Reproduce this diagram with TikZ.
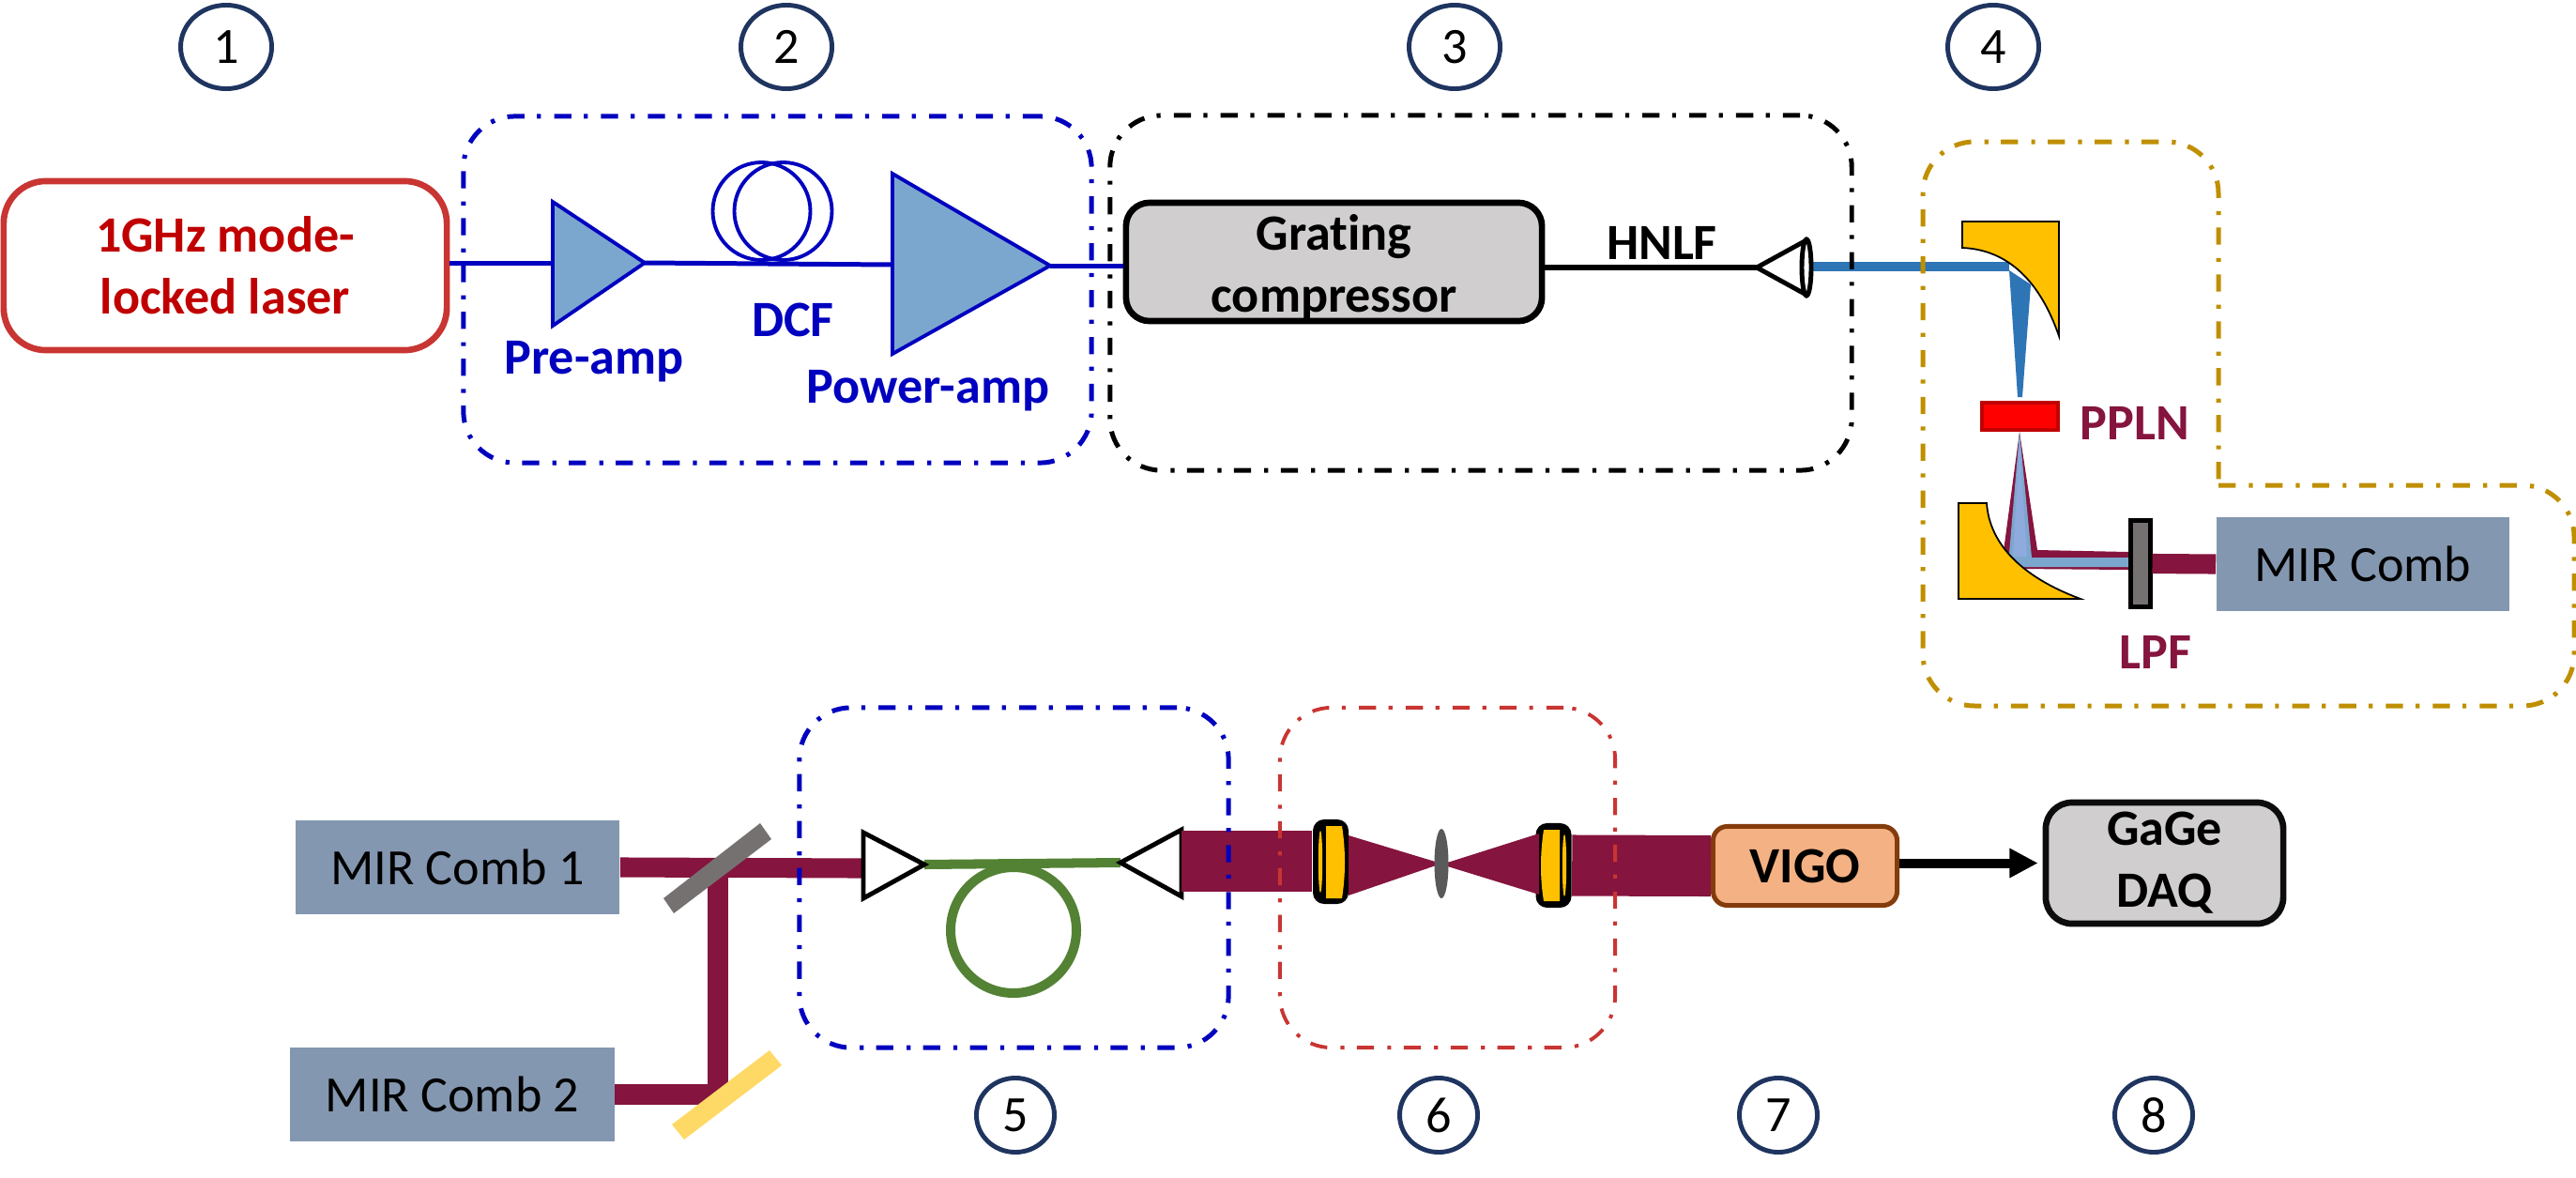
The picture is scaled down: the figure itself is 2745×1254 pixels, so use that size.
\documentclass[tikz,border=0pt]{standalone}
\usepackage{fontspec}
\setmainfont{Carlito}[Ligatures=NoCommon]
\usetikzlibrary{arrows.meta,shapes.geometric}
\definecolor{fiberblue}{HTML}{0000BF}
\definecolor{ampfill}{HTML}{7BA7CF}
\definecolor{darkred}{HTML}{C00000}
\definecolor{laserred}{HTML}{C83532}
\definecolor{gold}{HTML}{BF8F00}
\definecolor{mirror}{HTML}{FFC000}
\definecolor{paleyellow}{HTML}{FFD966}
\definecolor{midblue}{HTML}{2E75B6}
\definecolor{paleblue}{HTML}{8FAADC}
\definecolor{wine}{HTML}{85143E}
\definecolor{combfill}{HTML}{8497B0}
\definecolor{boxgray}{HTML}{D0CECE}
\definecolor{filtergray}{HTML}{767171}
\definecolor{leaf}{HTML}{548235}
\definecolor{numblue}{HTML}{1F3560}
\definecolor{vigofill}{HTML}{F4B183}
\definecolor{vigoline}{HTML}{843C0C}
\tikzset{
    lbl/.style={font=\fontsize{15.4}{18.8}\selectfont,align=center,inner sep=0},
    blbl/.style={lbl,font=\fontsize{15.4}{18.8}\selectfont\bfseries},
    grp/.style={draw,rounded corners=.55cm,line width=1.42pt,inner sep=0,
        dash pattern=on 5.2pt off 4pt on 1.2pt off 3.8pt},
    numc/.style={lbl,draw=numblue,ellipse,line width=1.4pt,fill=white},
    topnum/.style={numc,minimum width=.97cm,minimum height=.89cm},
    lownum/.style={numc,minimum width=.83cm,minimum height=.79cm},
    comb/.style={lbl,fill=combfill,minimum width=3.45cm,minimum height=1cm},
    fiber/.style={fiberblue,line width=1.42pt},
    amp/.style={draw=fiberblue,fill=ampfill,line width=1.1pt},
    beam/.style={wine,line width=6pt},
    widebeam/.style={wine,line width=18.5pt},
    cpl/.style={draw=black,fill=white,line width=1.4pt},
    omirror/.style={draw=black,fill=mirror,line width=.5pt},
    lensbody/.style={fill=black,rounded corners=.12cm,minimum width=.38cm,minimum height=.9cm,inner sep=0},
}
\begin{document}
\begin{tikzpicture}[x=.01cm,y=-.01cm]
\useasboundingbox (0,0) rectangle (2745,1254);

% laser and amplifiers
\node[blbl,text=darkred,draw=laserred,line width=1.9pt,rounded corners=.45cm,
    minimum width=4.72cm,minimum height=1.8cm] (laser) at (240,283) {1GHz mode-\\locked laser};

\coordinate (prein) at (589,280);
\coordinate (preout) at (687,280);
\coordinate (powin) at (951,282);
\coordinate (powout) at (1119,283);

\node[blbl,text=black,draw=black,fill=boxgray,line width=1.9pt,rounded corners=.25cm,
    minimum width=4.43cm,minimum height=1.26cm] (grating) at (1421.5,279) {\rule{0pt}{14pt}Grating\\compressor};

\draw[fiber] (laser.east |- prein) -- (prein);
\draw[fiber] (preout) -- (powin);
\draw[fiber] (powout) -- (grating.west |- powout);

\filldraw[amp] (prein) -- (589,215) -- (preout) -- (589,347) -- cycle;
\filldraw[amp] (powin) -- (951,185) -- (powout) -- (951,377) -- cycle;
\draw[fiberblue,line width=1.1pt] (811.5,225) ellipse [x radius=52,y radius=52];
\draw[fiberblue,line width=1.1pt] (834.5,225) ellipse [x radius=52,y radius=52];

\node[blbl,text=fiberblue] (pre) at (633,385) {Pre-amp};
\node[blbl,text=fiberblue] (dcf) at (845,341) {DCF};
\node[blbl,text=fiberblue] (pow) at (989,416) {Power-amp};

% HNLF and coupling lens
\coordinate (tip) at (1872,285);
\coordinate (hnlfout) at (1929,284);
\coordinate (oap) at (2141,284);
\draw[black,line width=1.7pt] (grating.east |- tip) -- (tip);
\node[blbl] (hnlf) at (1771,259) {HNLF};
\draw[midblue,line width=2.85pt] (hnlfout) -- (oap);
\filldraw[cpl] (tip) -- (1923,257) -- (1923,313) -- cycle;
\filldraw[cpl] (1925,285) ellipse [x radius=5,y radius=30];

% PPLN stage
\fill[midblue] (2141,288) -- (2164,303) -- (2155,423) -- (2150,423) -- cycle;
\filldraw[omirror] (2091,236) -- (2194,236) -- (2194,358)
    .. controls (2174,300) and (2140,266) .. (2091,264) -- cycle;

\node[draw=darkred,fill=red,line width=1.2pt,minimum width=.81cm,minimum height=.29cm,inner sep=0]
    (ppln) at (2152.5,443.5) {};
\node[blbl,text=wine] (pplntxt) at (2275,451) {PPLN};

\fill[wine] (2152,460) -- (2171,586) -- (2268,588) -- (2268,607) -- (2150,606) -- (2135,587) -- cycle;
\fill[ampfill] (2152,460) -- (2165,594) -- (2268,594) -- (2268,604) -- (2150,604) -- (2141,590) -- cycle;
\fill[paleblue] (2152,470) -- (2160,593) -- (2145,593) -- cycle;
\filldraw[omirror] (2087,536) -- (2117,536)
    .. controls (2120,580) and (2155,615) .. (2217,638) -- (2087,638) -- cycle;

\node[comb,minimum width=3.12cm] (mir) at (2518,601) {MIR Comb};
\node[draw=black,fill=filtergray,line width=1.42pt,minimum width=.21cm,minimum height=.91cm,inner sep=0]
    (lpf) at (2280.5,600.5) {};
\draw[beam] (lpf.east) -- (mir.west);
\node[blbl,text=wine] (lpftxt) at (2297,695) {LPF};

% combs and combining optics
\node[comb] (comb1) at (487.5,924) {MIR Comb 1};
\node[comb] (comb2) at (482,1166) {MIR Comb 2};

\coordinate (cplin) at (920,925);
\coordinate (split) at (765,925);
\coordinate (fold) at (765,1166);
\draw[beam] (comb1.east) -- (cplin);
\draw[beam] (comb2.east) -- (fold) -- (split);
\fill[filtergray] (810,877) -- (822,894) -- (718,973) -- (707,957) -- cycle;
\fill[paleyellow] (820,1119) -- (833,1135) -- (729,1214) -- (716,1198) -- cycle;

% fiber loop
\coordinate (fibl) at (985,921);
\coordinate (fibr) at (1194,919);
\draw[leaf,line width=2.85pt] (fibl) -- (fibr);
\draw[leaf,line width=2.85pt] (1080,991) ellipse [x radius=67,y radius=67];
\filldraw[cpl] (920,887) -- (fibl) -- (920,957) -- cycle;
\filldraw[cpl] (1259,884) -- (fibr) -- (1259,955) -- cycle;

% telescope
\node[lensbody] (lens1) at (1418,918) {};
\node[lensbody] (lens2) at (1655.5,922) {};
\node[blbl,text=black,draw=vigoline,fill=vigofill,line width=1.42pt,rounded corners=.15cm,
    minimum width=1.96cm,minimum height=.84cm] (vigo) at (1923.5,922.5) {VIGO};

\draw[widebeam] (1259,917.5) -- (lens1.west |- 1259,917.5);
\draw[widebeam] (lens2.east) -- (vigo.west);
\fill[wine] (1437,890) -- (1536,920) -- (1437,954) -- cycle;
\fill[wine] (1640,888) -- (1536,921) -- (1640,953) -- cycle;
\fill[black!65] (1536,920) ellipse [x radius=7.5,y radius=37];

\fill[mirror] (1413,880) -- (1430,880) .. controls (1434,905) and (1434,932) .. (1430,957) -- (1413,957) -- cycle;
\fill[mirror] (1407,918) ellipse [x radius=2.2,y radius=33];
\fill[mirror] (1662,884) -- (1645,884) .. controls (1641,910) and (1641,936) .. (1645,960) -- (1662,960) -- cycle;
\fill[mirror] (1667,922) ellipse [x radius=2.2,y radius=33];

\node[blbl,text=black,draw=black!95,fill=boxgray,line width=1.9pt,rounded corners=.28cm,
    minimum width=2.53cm,minimum height=1.29cm] (gage) at (2306.5,919.5) {GaGe\\DAQ};
\draw[-{Triangle[length=8.6pt,width=8.4pt]},line width=2.85pt,shorten >=1.4pt] (vigo.east |- gage.west) -- (gage.west);

% dashed groups
\node[grp,fiberblue,minimum width=6.69cm,minimum height=3.69cm] (g2) at (828.5,308.5) {};
\node[grp,black,minimum width=7.9cm,minimum height=3.78cm] (g3) at (1578,312) {};
\node[grp,fiberblue,minimum width=4.57cm,minimum height=3.62cm] (g5) at (1080.5,935) {};
\node[grp,laserred,line width=1.1pt,minimum width=3.57cm,minimum height=3.62cm] (g6) at (1542.5,935) {};
\draw[gold,line width=1.42pt,rounded corners=.55cm,dash pattern=on 5.2pt off 4pt on 1.2pt off 3.8pt]
    (2364,517) -- (2743,517) -- (2743,752) -- (2049,752) -- (2049,151) -- (2364,151) -- (2364,517);

% numbers
\node[topnum] (n1) at (241,50) {1};
\node[topnum] (n2) at (838,50) {2};
\node[topnum] (n3) at (1550,50) {3};
\node[topnum] (n4) at (2124,50) {4};
\node[lownum] (n5) at (1082,1188) {5};
\node[lownum] (n6) at (1533,1188) {6};
\node[lownum] (n7) at (1895,1188) {7};
\node[lownum] (n8) at (2295,1188) {8};

\end{tikzpicture}
\end{document}
